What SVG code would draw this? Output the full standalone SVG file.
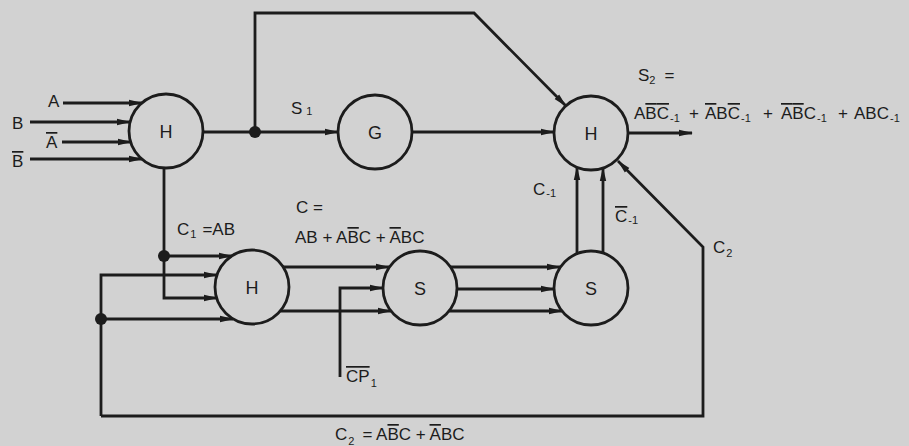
<svg xmlns="http://www.w3.org/2000/svg" width="909" height="446" viewBox="0 0 909 446">
<style>
.bg{fill:#d2d2d2}
.ln{fill:none;stroke:#1c1c1c;stroke-width:2.8;stroke-linejoin:miter}
.ar{marker-end:url(#ah)}
.node circle{fill:none;stroke:#1c1c1c;stroke-width:2.8}
text{font-family:"Liberation Sans","DejaVu Sans",sans-serif;fill:#1c1c1c;font-size:17px}
.node text{font-size:18px}
.c{text-anchor:middle}
.sub{font-size:11px}
.ov{text-decoration:overline}
.dot{fill:#1c1c1c}
</style>
<defs>
<marker id="ah" markerWidth="14" markerHeight="8" refX="13" refY="4" orient="auto" markerUnits="userSpaceOnUse">
<path d="M0,0.8 L14,4 L0,7.2 z" fill="#1c1c1c"/>
</marker>
</defs>
<rect class="bg" x="0" y="0" width="909" height="446"/>

<g id="connectors">
<line class="ln ar" x1="63" y1="103" x2="142" y2="103"/>
<line class="ln ar" x1="30" y1="122" x2="130" y2="122"/>
<line class="ln ar" x1="62" y1="142" x2="131" y2="142"/>
<line class="ln ar" x1="30" y1="159" x2="142" y2="159"/>
<line class="ln ar" x1="203" y1="132" x2="338" y2="132"/>
<polyline class="ln ar" points="255,132 255,13 474,13 566,106"/>
<line class="ln ar" x1="412" y1="132" x2="554" y2="132"/>
<line class="ln ar" x1="628" y1="133" x2="692" y2="133"/>
<polyline class="ln ar" points="164,168 164,298 217,298"/>
<line class="ln ar" x1="164" y1="256" x2="232" y2="256"/>
<polyline class="ln ar" points="101,416 101,275 217,275"/>
<line class="ln ar" x1="101" y1="319" x2="233" y2="319"/>
<polyline class="ln ar" points="101,416 703,416 703,247 618,161"/>
<line class="ln ar" x1="283" y1="267" x2="389" y2="267"/>
<line class="ln ar" x1="280" y1="311" x2="391" y2="311"/>
<polyline class="ln ar" points="340,377 340,288 383,288"/>
<line class="ln ar" x1="450" y1="267" x2="560" y2="267"/>
<line class="ln ar" x1="457" y1="289" x2="554" y2="289"/>
<line class="ln ar" x1="449" y1="311" x2="562" y2="311"/>
<line class="ln ar" x1="577" y1="254" x2="577" y2="167"/>
<line class="ln ar" x1="603" y1="253" x2="603" y2="168"/>
<circle class="dot" cx="255" cy="132" r="6"/>
<circle class="dot" cx="164" cy="256" r="6"/>
<circle class="dot" cx="101" cy="319" r="6"/>
</g>

<g id="H1" class="node"><circle cx="166" cy="131" r="37"/><text class="c" x="166" y="138">H</text></g>
<g id="G" class="node"><circle cx="375" cy="132" r="37"/><text class="c" x="375" y="139">G</text></g>
<g id="H2" class="node"><circle cx="591" cy="133" r="37"/><text class="c" x="591" y="140">H</text></g>
<g id="H3" class="node"><circle cx="252" cy="287" r="37"/><text class="c" x="252" y="294">H</text></g>
<g id="S1" class="node"><circle cx="420" cy="288" r="37"/><text class="c" x="420" y="295">S</text></g>
<g id="S2" class="node"><circle cx="591" cy="288" r="37"/><text class="c" x="591" y="295">S</text></g>

<g id="labels">
<text x="48" y="107">A</text>
<text x="12" y="129">B</text>
<text x="46" y="148"><tspan class="ov">A</tspan></text>
<text x="12" y="167"><tspan class="ov">B</tspan></text>
<text x="291" y="114">S<tspan class="sub" dx="4" dy="1">1</tspan></text>
<text x="638" y="81">S<tspan class="sub" dy="3">2</tspan><tspan dx="9" dy="-3">=</tspan></text>
<text y="119"><tspan x="634">A</tspan><tspan class="ov">B</tspan><tspan class="ov">C</tspan><tspan class="sub" dx="1" y="122">-1</tspan><tspan x="689" y="119">+</tspan><tspan x="705"><tspan class="ov">A</tspan>B<tspan class="ov">C</tspan></tspan><tspan class="sub" dx="1" y="122">-1</tspan><tspan x="763" y="119">+</tspan><tspan x="781"><tspan class="ov">A</tspan><tspan class="ov">B</tspan>C</tspan><tspan class="sub" dx="1" y="122">-1</tspan><tspan x="838" y="119">+</tspan><tspan x="854">ABC</tspan><tspan class="sub" dx="1" y="122">-1</tspan></text>
<text x="177" y="235">C<tspan class="sub" dx="1" dy="3">1</tspan><tspan dx="6" dy="-3">=AB</tspan></text>
<text x="296" y="213">C =</text>
<text x="295" y="243">AB + A<tspan class="ov">B</tspan>C + <tspan class="ov">A</tspan>BC</text>
<text x="533" y="195">C<tspan class="sub" dx="1" dy="2">-1</tspan></text>
<text x="615" y="222"><tspan class="ov">C</tspan><tspan class="sub" dx="1" dy="2">-1</tspan></text>
<text x="713" y="253">C<tspan class="sub" dx="1" dy="4">2</tspan></text>
<text x="346" y="382"><tspan class="ov">CP</tspan><tspan class="sub" dx="1" dy="5">1</tspan></text>
<text x="335" y="440">C<tspan class="sub" dx="1" dy="5">2</tspan><tspan dx="8" dy="-5">= A<tspan class="ov">B</tspan>C + <tspan class="ov">A</tspan>BC</tspan></text>
</g>
</svg>
